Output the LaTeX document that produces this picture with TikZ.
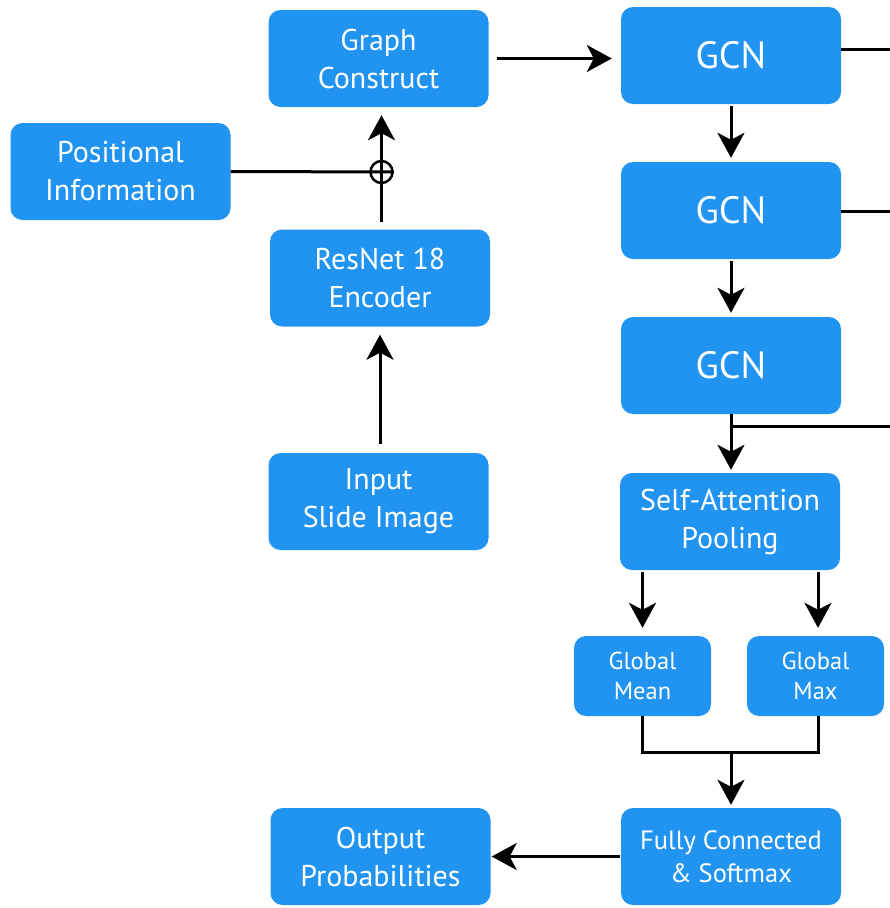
\documentclass[tikz,border=0pt]{standalone}
\usepackage{fontspec}
\setmainfont{PT Sans}
\usetikzlibrary{arrows.meta}
\definecolor{boxblue}{RGB}{33,148,242}
\tikzset{
  box/.style={rectangle, rounded corners=12pt, fill=boxblue, text=white, minimum width=220pt, minimum height=97pt, align=center, inner sep=0pt, font=\fontsize{30}{38}\selectfont},
  smallbox/.style={box, minimum width=137pt, minimum height=80pt, font=\fontsize{24.5}{30}\selectfont},
  gcnbox/.style={box, font=\fontsize{38}{44}\selectfont},
  conn/.style={line width=3pt, draw=black},
  arr/.style={conn, -{Stealth[length=25pt, width=27pt, inset=7pt]}},
}
\begin{document}
\begin{tikzpicture}[x=1pt,y=-1pt]
\useasboundingbox (0,0) rectangle (890,908);
\node[box] (gc) at (378.5,58.5) {Graph\\Construct};
\node[box] (pos) at (120.5,171.5) {Positional\\Information};
\node[box] (res) at (380,278) {ResNet 18\\Encoder};
\node[box] (inp) at (378.5,501.5) {Input\\Slide Image};
\node[gcnbox] (g1) at (731,55.5) {GCN};
\node[gcnbox] (g2) at (731,210.5) {GCN};
\node[gcnbox] (g3) at (731,365.5) {GCN};
\node[box] (sap) at (730,521.5) {Self-Attention\\Pooling};
\node[smallbox] (gmean) at (642.5,676) {Global\\Mean};
\node[smallbox] (gmax) at (815.5,676) {Global\\Max};
\node[box, font=\fontsize{26.5}{33}\selectfont] (fc) at (731,856.5) {Fully Connected\\\& Softmax};
\node[box] (out) at (380.5,856.5) {Output\\Probabilities};
\node[circle, draw=black, line width=2.5pt, minimum size=22pt, inner sep=0pt] (plus) at (381.5,172) {};
% free ends at the right edge
\coordinate (e1) at (890,49);
\coordinate (e2) at (890,211);
\coordinate (e3) at (890,426);
\coordinate (j3) at (731,426);
\coordinate (jm) at (642,752);
\coordinate (jx) at (818,752);
\coordinate (jc) at (731,752);
% connectors
\draw[arr, shorten <=8pt, shorten >=9pt] (gc.east) -- (g1.west |- gc.east);
\draw[conn] (pos.east) -- (plus.east);
\draw[arr, shorten <=7pt, shorten >=8pt] (plus |- res.north) -- (plus |- gc.south);
\draw[arr, shorten <=9pt, shorten >=8pt] (res.south |- inp.north) -- (res.south);
\draw[arr, shorten <=2pt, shorten >=4pt] (g1.south) -- (g2.north);
\draw[arr, shorten <=2pt, shorten >=4pt] (g2.south) -- (g3.north);
\draw[arr, shorten >=3pt] (g3.south) -- (sap.north -| g3.south);
\draw[conn] (j3) -- (e3);
\draw[conn] (g1.east |- e1) -- (e1);
\draw[conn] (g2.east |- e2) -- (e2);
\draw[arr, shorten <=2pt, shorten >=8pt] (sap.south -| gmean.north) -- (gmean.north);
\draw[arr, shorten <=2pt, shorten >=8pt] (sap.south -| jx) -- (gmax.north -| jx);
\draw[conn] (gmean.south -| jm) -- (jm) -- (jx) -- (gmax.south -| jx);
\draw[arr, shorten >=3pt] (jc) -- (fc.north);
\draw[arr, shorten <=1pt, shorten >=1pt] (fc.west) -- (out.east);
\end{tikzpicture}
\end{document}
